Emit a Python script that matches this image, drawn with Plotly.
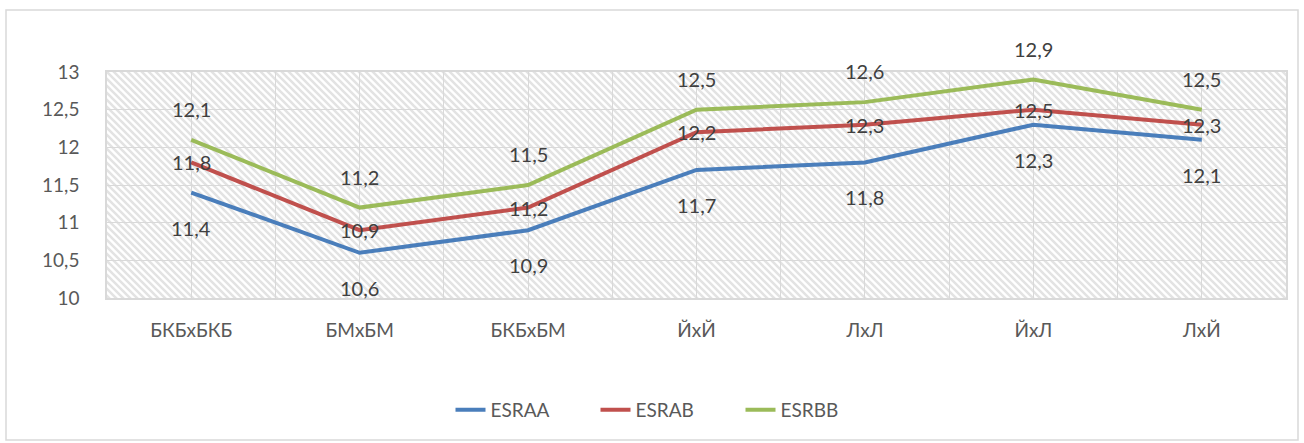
"""Line chart: ESRAA / ESRAB / ESRBB by cross, Excel-style hatched plot area."""

import base64

import plotly.graph_objects as go

# ---------------------------------------------------------------------------
# Data
# ---------------------------------------------------------------------------

categories = ["БКБxБКБ", "БМxБМ", "БКБxБМ", "ЙxЙ", "ЛxЛ", "ЙxЛ", "ЛxЙ"]
esraa = [11.4, 10.6, 10.9, 11.7, 11.8, 12.3, 12.1]
esrab = [11.8, 10.9, 11.2, 12.2, 12.3, 12.5, 12.3]
esrbb = [12.1, 11.2, 11.5, 12.5, 12.6, 12.9, 12.5]
y_ticks = [10, 10.5, 11, 11.5, 12, 12.5, 13]

series = [
    ("ESRAA", esraa, "#4a7ebb", -35),
    ("ESRAB", esrab, "#c0504d", 0),
    ("ESRBB", esrbb, "#9bbb59", 31),
]

FONT = "Lato, Calibri, 'Open Sans', sans-serif"
W, H = 1304, 443
L, R, T, B = 107, 18, 72, 145
PW, PH = W - L - R, H - T - B


def fmt(v):
    return f"{v:g}".replace(".", ",")


# hatch pattern ("wide downward diagonal") for the plot area background
svg = (
    f'<svg xmlns="http://www.w3.org/2000/svg" width="{PW}" height="{PH}">'
    '<defs><pattern id="h" patternUnits="userSpaceOnUse" width="7" height="7">'
    '<path d="M-1,6 l2,2 M0,0 l7,7 M6,-1 l2,2" stroke="#e3e3e3" stroke-width="2.6"/>'
    '</pattern></defs>'
    f'<rect width="{PW}" height="{PH}" fill="white"/>'
    f'<rect width="{PW}" height="{PH}" fill="url(#h)"/></svg>'
)
hatch = "data:image/svg+xml;base64," + base64.b64encode(svg.encode()).decode()

fig = go.Figure()
x_idx = list(range(len(categories)))
annotations = []
for name, vals, color, shift in series:
    fig.add_trace(go.Scatter(
        x=x_idx, y=vals, mode="lines", name=name,
        line=dict(color=color, width=4),
    ))
    for xi, v in zip(x_idx, vals):
        annotations.append(dict(
            x=xi, y=v, text=fmt(v), showarrow=False, yshift=shift,
            font=dict(family=FONT, size=20, color="#404040"),
        ))

# chart border (outside plot area)
fig.add_shape(
    type="rect", xref="paper", yref="paper",
    x0=(6 - L) / PW, x1=(1298 - L) / PW,
    y0=(T + PH - 440) / PH, y1=(T + PH - 10) / PH,
    line=dict(color="#d9d9d9", width=1.5), layer="below",
)

fig.update_layout(
    width=W, height=H,
    margin=dict(l=L, r=R, t=T, b=B),
    paper_bgcolor="white",
    plot_bgcolor="rgba(0,0,0,0)",
    font=dict(family=FONT, size=19, color="#595959"),
    annotations=annotations,
    images=[dict(
        source=hatch, xref="paper", yref="paper", x=0, y=1,
        sizex=1, sizey=1, sizing="stretch", layer="below",
        xanchor="left", yanchor="top",
    )],
    legend=dict(
        orientation="h", x=(668 - L) / PW, xanchor="center",
        y=(T + PH - 410) / PH, yanchor="middle",
        font=dict(size=19, color="#595959"),
        entrywidth=100, tracegroupgap=0,
    ),
    showlegend=True,
)
fig.update_xaxes(
    range=[-0.5, len(categories) - 0.5],
    tickmode="array", tickvals=x_idx, ticktext=categories,
    showgrid=True, gridcolor="#d9d9d9", gridwidth=1,
    minor=dict(tickmode="linear", tick0=-0.5, dtick=1, showgrid=True,
               gridcolor="#d9d9d9", gridwidth=1),
    showline=True, linecolor="#d9d9d9", linewidth=1.5, mirror=True,
    ticks="outside", ticklen=14, tickcolor="rgba(0,0,0,0)",
    zeroline=False, fixedrange=True,
)
fig.update_yaxes(
    range=[10, 13], tickmode="array", tickvals=y_ticks,
    ticktext=[fmt(v) for v in y_ticks],
    showgrid=True, gridcolor="#d9d9d9", gridwidth=1,
    showline=True, linecolor="#d9d9d9", linewidth=1.5, mirror=True,
    ticks="outside", ticklen=22, tickcolor="rgba(0,0,0,0)",
    zeroline=False, fixedrange=True,
)

fig.write_html("out.html", config={"displayModeBar": False},
               post_script="document.body.style.margin='0';")
